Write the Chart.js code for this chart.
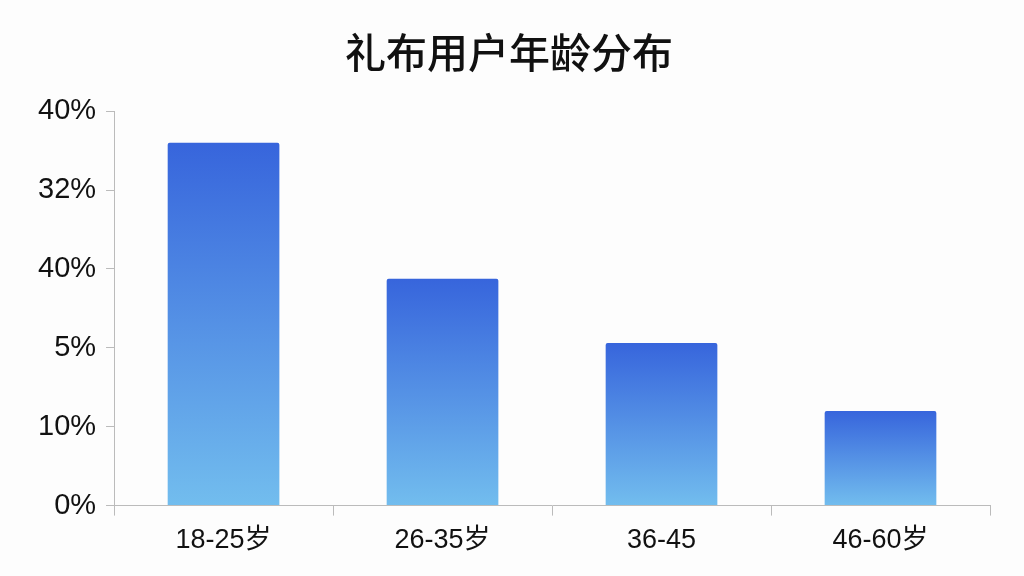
<!DOCTYPE html>
<html>
<head>
<meta charset="utf-8">
<script src="https://cdn.jsdelivr.net/npm/chart.js@4/dist/chart.umd.min.js"></script>
<style>
    html, body { margin: 0; padding: 0; background: #fdfdfd; }
    #box { width: 1024px; height: 576px; position: relative; }
</style>
</head>
<body>
<div id="box"><canvas id="grafico"></canvas></div>
<script>
// dati
const categorie = ["18-25岁", "26-35岁", "36-45", "46-60岁"];
const valori = [36.8, 23.0, 16.5, 9.6];
// etichette dell'asse y dal basso verso l'alto (come appaiono nel grafico)
const etichetteY = ["0%", "10%", "5%", "40%", "32%", "40%"];
const titolo = "礼布用户年龄分布";

const FONT = "'Liberation Sans', 'Noto Sans CJK SC', sans-serif";

function coloreBarra(context) {
    const chart = context.chart;
    const area = chart.chartArea;
    if (!area) return "#4a86e0";
    const v = context.raw;
    const top = chart.scales.y.getPixelForValue(v);
    const bottom = chart.scales.y.getPixelForValue(0);
    const g = chart.ctx.createLinearGradient(0, top, 0, bottom);
    g.addColorStop(0, "#3765dc");
    g.addColorStop(1, "#72bdee");
    return g;
}

const ctx = document.getElementById("grafico").getContext("2d");

new Chart(ctx, {
    type: "bar",
    data: {
        labels: categorie,
        datasets: [{
            data: valori,
            backgroundColor: coloreBarra,
            borderRadius: 2,
            barPercentage: 0.51,
            categoryPercentage: 1
        }]
    },
    options: {
        responsive: true,
        maintainAspectRatio: false,
        animation: false,
        layout: { padding: { top: 28, left: 28, right: 34, bottom: 10 } },
        plugins: {
            legend: { display: false },
            tooltip: { enabled: false },
            title: {
                display: true,
                text: titolo,
                color: "#111",
                font: { family: "'Noto Sans CJK SC', sans-serif", size: 41, weight: "500" },
                padding: { top: 0, bottom: 34 }
            }
        },
        scales: {
            x: {
                grid: {
                    offset: true,
                    drawOnChartArea: false,
                    tickLength: 10,
                    color: "#bbbbbb"
                },
                border: { color: "#bbbbbb" },
                ticks: {
                    color: "#111",
                    padding: 9,
                    font: { family: FONT, size: 27 }
                }
            },
            y: {
                min: 0,
                max: 40,
                grid: {
                    drawOnChartArea: false,
                    tickLength: 8,
                    color: "#bbbbbb"
                },
                border: { color: "#bbbbbb" },
                ticks: {
                    stepSize: 8,
                    color: "#111",
                    padding: 10,
                    font: { family: FONT, size: 29 },
                    callback: function (value, index) {
                        return etichetteY[index];
                    }
                }
            }
        }
    }
});
</script>
</body>
</html>
